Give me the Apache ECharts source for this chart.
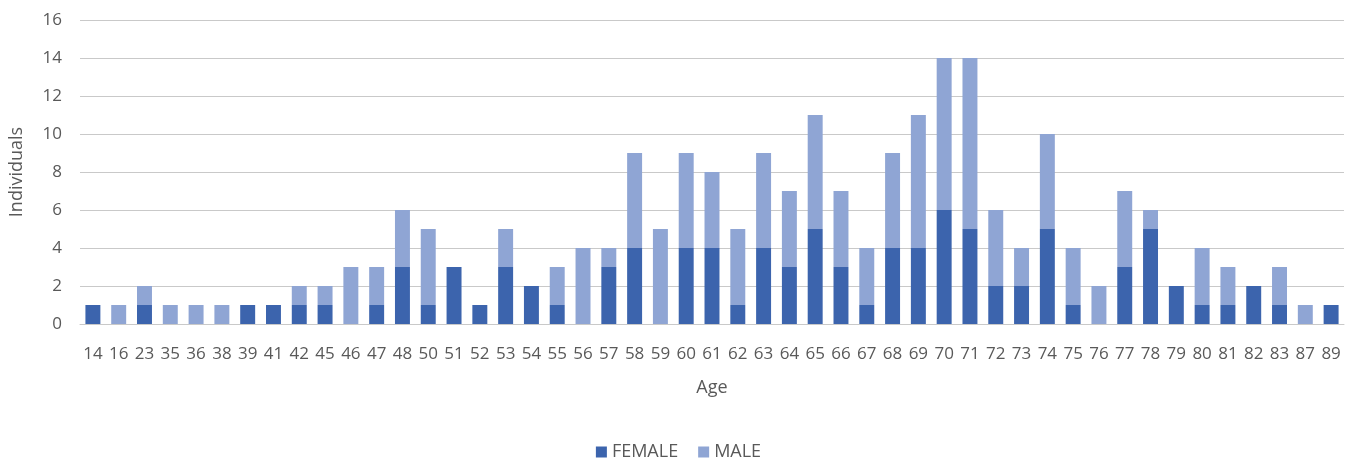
<!DOCTYPE html>
<html>
<head>
<meta charset="utf-8">
<script src="https://cdn.jsdelivr.net/npm/echarts@6/dist/echarts.min.js"></script>
<style>
html,body{margin:0;padding:0;background:#fff;}
#chart{width:1357px;height:459px;}
</style>
</head>
<body>
<div id="chart"></div>
<script>
var ages = ['14','16','23','35','36','38','39','41','42','45','46','47','48','50','51','52','53','54','55','56','57','58','59','60','61','62','63','64','65','66','67','68','69','70','71','72','73','74','75','76','77','78','79','80','81','82','83','87','89'];
var female = [1,0,1,0,0,0,1,1,1,1,0,1,3,1,3,1,3,2,1,0,3,4,0,4,4,1,4,3,5,3,1,4,4,6,5,2,2,5,1,0,3,5,2,1,1,2,1,0,1];
var male = [0,1,1,1,1,1,0,0,1,1,3,2,3,4,0,0,2,0,2,4,1,5,5,5,4,4,5,4,6,4,3,5,7,8,9,4,2,5,3,2,4,1,0,3,2,0,2,1,0];

var font = '"Open Sans", "Liberation Sans", sans-serif';
var chart = echarts.init(document.getElementById('chart'));
chart.setOption({
  animation: false,
  textStyle: {fontFamily: font},
  legend: {
    top: 438,
    left: 'center',
    itemWidth: 11,
    itemHeight: 11,
    itemGap: 20,
    icon: 'rect',
    textStyle: {color: '#595959', fontSize: 18, fontFamily: font},
    data: ['FEMALE', 'MALE']
  },
  grid: {left: 79, right: 13, top: 20, bottom: 135},
  xAxis: {
    type: 'category',
    data: ages,
    name: 'Age',
    nameLocation: 'middle',
    nameGap: 55,
    nameTextStyle: {color: '#595959', fontSize: 18, fontFamily: font},
    axisLine: {lineStyle: {color: '#C9C9C9', width: 1}},
    axisTick: {show: false},
    axisLabel: {interval: 0, color: '#595959', fontSize: 17, margin: 22, fontFamily: font}
  },
  yAxis: {
    type: 'value',
    min: 0,
    max: 16,
    interval: 2,
    name: 'Individuals',
    nameLocation: 'middle',
    nameGap: 54,
    nameTextStyle: {color: '#595959', fontSize: 18, fontFamily: font},
    axisLine: {show: false},
    axisTick: {show: false},
    axisLabel: {color: '#595959', fontSize: 17, margin: 18, fontFamily: font},
    splitLine: {lineStyle: {color: '#C9C9C9', width: 1}}
  },
  series: [
    {name: 'FEMALE', type: 'bar', stack: 'a', data: female, barCategoryGap: '42%',
     itemStyle: {color: '#3C64AD'}},
    {name: 'MALE', type: 'bar', stack: 'a', data: male, barCategoryGap: '42%',
     itemStyle: {color: '#8FA5D4'}}
  ]
});
</script>
</body>
</html>
